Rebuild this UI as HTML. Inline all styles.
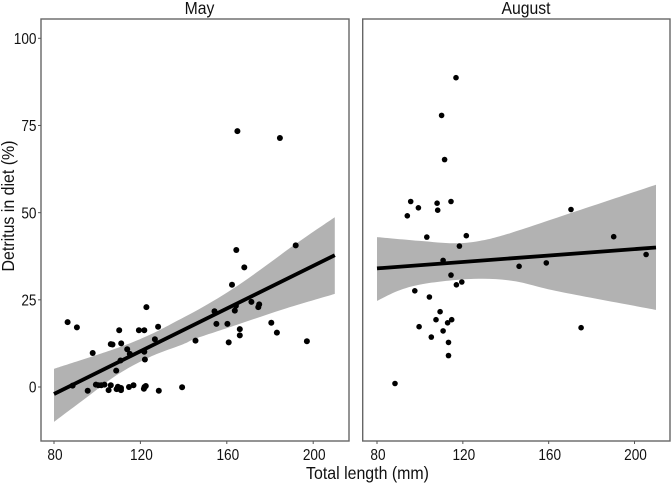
<!DOCTYPE html>
<html>
<head>
<meta charset="utf-8">
<title>Detritus in diet vs total length</title>
<style>
html,body{margin:0;padding:0;background:#fff;}
svg{display:block;}
text{font-family:"Liberation Sans",Arial,sans-serif;fill:#111;}
</style>
</head>
<body>
<svg id="chart" xmlns="http://www.w3.org/2000/svg" width="671" height="485" viewBox="0 0 671 485"></svg>
<script>
var yTicks = [0, 25, 50, 75, 100];
var xTicks = [80, 120, 160, 200];

var mayLength = [86.3,90.6,97.9,95.6,88.6,99.4,100.6,101.9,103.4,105.3,106.3,106.3,107.1,108.8,109,109.6,110.2,110.8,111.1,111,111,113.9,114.7,115.1,116.8,119.3,121.6,121.9,122.5,121.8,121.8,122.1,122.8,126.7,128.2,128.5,139.3,145.5,154.3,155.2,160.3,160.9,162.4,163.7,164.2,164.4,166,166,168.1,171.4,174.6,175,180.6,183.2,197.1,191.9,164.9,184.6];
var mayDetritus = [18.6,17.1,9.75,-1.1,0.4,0.7,0.5,0.5,0.7,-0.9,0.5,12.3,12.2,4.7,-0.6,0.1,16.3,7.6,12.5,-0.3,-0.9,10.8,0,9.5,0.5,16.3,-0.5,0,0.3,16.3,10.1,7.9,22.9,13.7,17.3,-1.1,-0.1,13.3,21.7,18.1,18.1,12.8,29.3,21.9,23.3,39.3,16.6,14.8,34.3,24.4,22.9,23.7,18.4,15.6,13.1,40.6,73.4,71.4];
var mayFitLength = [80, 210];
var mayFitValue = [-2, 37.8];
var mayUpperLength = [80,109,124.4,133.7,149.1,167.7,192.3,210];
var mayUpperValue = [5.2,11.1,15,17.9,23,30.2,41.2,48.7];
var mayLowerLength = [80,93.6,109,124.4,139.9,145.7,164.6,186.2,210];
var mayLowerValue = [-10,-3.7,3.4,8.6,12.3,13.9,17.8,22.3,26.7];

var augLength = [116.8,110.1,111.5,95.7,99.3,94.1,108,108.3,114.5,103.2,121.6,118.4,170.4,190.3,110.8,114.5,117,119.5,97.6,104.4,109.4,107.5,114.8,112.9,99.6,110.8,105.3,113.3,113.3,88.4,146.2,158.9,175.1,205.4];
var augDetritus = [88.7,77.9,65.2,53.2,51.4,49.1,52.7,50.7,53.2,43,43.4,40.4,50.9,43.1,36.3,32.1,29.3,30.1,27.6,25.8,21.6,19.3,19.3,18.4,17.3,16.1,14.3,12.8,9,1,34.6,35.6,17,38];
var augFitLength = [80, 210];
var augFitValue = [34, 40];
var augUpperLength = [80,100,115.6,128,142,170,210];
var augUpperValue = [43,41.9,41.2,41.9,44.1,49.8,58];
var augLowerLength = [80,90.7,103.2,124.9,143.5,165.3,210];
var augLowerValue = [24.7,27.8,29.7,31,30.4,27.3,22.1];

var NS = "http://www.w3.org/2000/svg";
var svg = document.getElementById("chart");

function mk(parent, tag, attrs) {
  var e = document.createElementNS(NS, tag);
  for (var k in attrs) { e.setAttribute(k, attrs[k]); }
  parent.appendChild(e);
  return e;
}
function label(parent, str, x, y, size, anchor, sx, rot) {
  var t = mk(parent, "text", {
    "transform": "translate(" + x + "," + y + ")" + (rot ? " rotate(" + rot + ")" : "") + " scale(" + sx + ",1)",
    "font-size": size,
    "text-anchor": anchor
  });
  t.textContent = str;
  return t;
}
function yScale(v) { return 387 - 3.487 * v; }
function pts(xs, ys, sx) {
  return xs.map(function (x, i) { return [sx(x), yScale(ys[i])]; });
}
function smooth(p) {
  var d = "";
  for (var i = 0; i < p.length - 1; i++) {
    var a = p[Math.max(i - 1, 0)], b = p[i], c = p[i + 1], e = p[Math.min(i + 2, p.length - 1)];
    var c1x = b[0] + (c[0] - a[0]) / 6, c1y = b[1] + (c[1] - a[1]) / 6;
    var c2x = c[0] - (e[0] - b[0]) / 6, c2y = c[1] - (e[1] - b[1]) / 6;
    d += " C" + c1x.toFixed(1) + " " + c1y.toFixed(1) + " " + c2x.toFixed(1) + " " + c2y.toFixed(1) + " " + c[0].toFixed(1) + " " + c[1].toFixed(1);
  }
  return d;
}
function drawPanel(cfg) {
  var g = mk(svg, "g", {});
  
  

  var up = pts(cfg.upX, cfg.upY, cfg.sx);
  var lo = pts(cfg.loX, cfg.loY, cfg.sx).reverse();
  var band = mk(g, "path", {
    d: "M" + up[0][0].toFixed(1) + " " + up[0][1].toFixed(1) + smooth(up) +
       " L" + lo[0][0].toFixed(1) + " " + lo[0][1].toFixed(1) + smooth(lo) + " Z",
    fill: "#b2b2b2"
  });
  
  

  cfg.px.forEach(function (x, i) {
    var c = mk(g, "circle", { cx: cfg.sx(x).toFixed(1), cy: yScale(cfg.py[i]).toFixed(1), r: cfg.r, fill: "#000" });
    
    
  });

  var fit = mk(g, "polyline", {
    points: pts(cfg.fitX, cfg.fitY, cfg.sx).map(function (p) { return p[0].toFixed(1) + "," + p[1].toFixed(1); }).join(" "),
    fill: "none", stroke: "#000", "stroke-width": 3.8
  });
  
  

  var frame = mk(g, "rect", {
    x: cfg.left, y: 19, width: cfg.right - cfg.left, height: 422,
    fill: "none", stroke: "#666", "stroke-width": 1.4
  });
  
  

  var title = label(g, cfg.title, cfg.titleX, 14, 17.5, "middle", 0.9);
  
  

  xTicks.forEach(function (v) {
    var px = cfg.sx(v);
    var tick = mk(g, "line", { x1: px, x2: px, y1: 441, y2: 444, stroke: "#555", "stroke-width": 1 });
    
    
    var tl = label(g, String(v), px + 1, 460, 15.5, "middle", 0.88);
    
    
  });
}

drawPanel({
  name: "may", title: "May", titleX: 199.5, left: 41, right: 349,
  sx: function (v) { return 54 + 2.16 * (v - 80); },
  px: mayLength, py: mayDetritus, r: 3,
  fitX: mayFitLength, fitY: mayFitValue,
  upX: mayUpperLength, upY: mayUpperValue,
  loX: mayLowerLength, loY: mayLowerValue
});
drawPanel({
  name: "august", title: "August", titleX: 526, left: 362.7, right: 670,
  sx: function (v) { return 377 + 2.146 * (v - 80); },
  px: augLength, py: augDetritus, r: 2.8,
  fitX: augFitLength, fitY: augFitValue,
  upX: augUpperLength, upY: augUpperValue,
  loX: augLowerLength, loY: augLowerValue
});

yTicks.forEach(function (v) {
  var py = yScale(v);
  var tick = mk(svg, "line", { x1: 38, x2: 41, y1: py, y2: py, stroke: "#555", "stroke-width": 1 });
  
  
  var tl = label(svg, String(v), 36.5, py + 5.6, 15.5, "end", 0.88);
  
  
});

var xTitle = label(svg, "Total length (mm)", 367.5, 479, 17.5, "middle", 0.91);



var yTitle = label(svg, "Detritus in diet (%)", 14, 206, 17.5, "middle", 0.91, -90);


</script>
</body>
</html>
